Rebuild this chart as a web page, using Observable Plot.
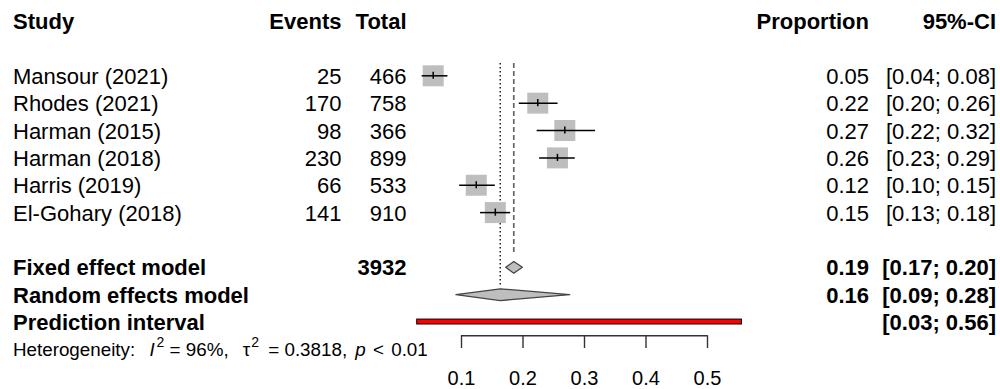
<!DOCTYPE html>
<html><head><meta charset="utf-8">
<script src="https://cdn.jsdelivr.net/npm/d3@7"></script>
<script src="https://cdn.jsdelivr.net/npm/@observablehq/plot@0.6"></script>
<style>
html,body{margin:0;padding:0;background:#fff;}
#chart svg{display:block;}
</style></head><body><div id="chart"></div>
<script>
// ---- data ----
const studies = ["Mansour (2021)", "Rhodes (2021)", "Harman (2015)", "Harman (2018)", "Harris (2019)", "El-Gohary (2018)"];
const events = [25, 170, 98, 230, 66, 141];
const totals = [466, 758, 366, 899, 533, 910];
const props = [0.054, 0.224, 0.268, 0.256, 0.124, 0.155];
const lower = [0.036, 0.194, 0.223, 0.227, 0.097, 0.131];
const upper = [0.078, 0.257, 0.318, 0.285, 0.155, 0.180];
const propLabels = ["0.05", "0.22", "0.27", "0.26", "0.12", "0.15"];
const ciLabels = ["[0.04; 0.08]", "[0.20; 0.26]", "[0.22; 0.32]", "[0.23; 0.29]", "[0.10; 0.15]", "[0.13; 0.18]"];

const summaryNames = ["Fixed effect model", "Random effects model", "Prediction interval"];
const summaryTotals = ["3932", "", ""];
const summaryEst = [0.185, 0.163, null];
const summaryLower = [0.172, 0.091, 0.028];
const summaryUpper = [0.199, 0.276, 0.556];
const summaryPropLabels = ["0.19", "0.16", ""];
const summaryCiLabels = ["[0.17; 0.20]", "[0.09; 0.28]", "[0.03; 0.56]"];

const headers = ["Study", "Events", "Total", "Proportion", "95%-CI"];
const hetLabel = "Heterogeneity: I2 = 96%, τ2 = 0.3818, p < 0.01";
const xTicks = [0.1, 0.2, 0.3, 0.4, 0.5];

// ---- layout ----
const W = 1000, H = 389;
const FONT = "'Liberation Sans', Arial, Helvetica, sans-serif";
const FS = 22, FS_HET = 18.8, FS_TICK = 20;
const rowTop = 75.3, rowStep = 27.36;
const headerRow = -2, fixedRow = 7, randomRow = 8, piRow = 9, hetRow = 10, axisRow = 9.5;
const yOf = r => rowTop + r * rowStep;
const colStudy = 12.5, colEvents = 341, colTotal = 406, colProp = 868.5, colCI = 995.5;

const studyRows = studies.map((s, i) => ({
  row: i, name: s, events: String(events[i]), total: String(totals[i]),
  est: props[i], lo: lower[i], hi: upper[i], prop: propLabels[i], ci: ciLabels[i]
}));
const sumRows = summaryNames.map((s, i) => ({
  row: [fixedRow, randomRow, piRow][i], name: s, total: summaryTotals[i],
  est: summaryEst[i], lo: summaryLower[i], hi: summaryUpper[i],
  prop: summaryPropLabels[i], ci: summaryCiLabels[i]
}));
const headerRowData = [{row: headerRow, name: headers[0], events: headers[1], total: headers[2], prop: headers[3], ci: headers[4]}];

const diamonds = [sumRows[0], sumRows[1]].flatMap((d, k) => {
  const h = 0.215;
  return [
    {id: k, x: d.lo, y: d.row},
    {id: k, x: d.est, y: d.row - h},
    {id: k, x: d.hi, y: d.row},
    {id: k, x: d.est, y: d.row + h}
  ];
});

function textCol(data, field, anchor, dxv, bold) {
  return Plot.text(data, {
    text: field, y: "row", frameAnchor: "left", dx: dxv, dy: 1,
    textAnchor: anchor, fontSize: FS, fontWeight: bold ? "bold" : "normal",
    fill: "#000", lineAnchor: "middle"
  });
}

const plot = Plot.plot({
  width: W, height: H,
  marginLeft: 0, marginRight: 0, marginTop: 0, marginBottom: H - yOf(axisRow),
  style: {fontFamily: FONT, background: "#fff", color: "#000"},
  x: {domain: [0.1, 0.5], range: [461, 707]},
  y: {domain: [0, 9], range: [yOf(0), yOf(9)], axis: null},
  marks: [
    // reference lines
    Plot.ruleX([sumRows[1]], {x: "est", y1: -0.45, y2: randomRow - 0.27, stroke: "#222", strokeWidth: 1.5, strokeDasharray: "1.5,2.5"}),
    Plot.ruleX([sumRows[0]], {x: "est", y1: -0.45, y2: fixedRow - 0.45, stroke: "#666", strokeWidth: 1.7, strokeDasharray: "5,3"}),
    // study squares and CIs
    Plot.dot(studyRows, {x: "est", y: "row", symbol: "square", r: 11.85, fill: "#bebebe", stroke: "none"}),
    Plot.ruleY(studyRows, {y: "row", x1: "lo", x2: "hi", stroke: "#000", strokeWidth: 1.5}),
    Plot.ruleX(studyRows, {x: "est", y1: d => d.row - 0.13, y2: d => d.row + 0.13, stroke: "#000", strokeWidth: 1.5}),
    // summary diamonds
    Plot.line(diamonds, {x: "x", y: "y", z: "id", curve: "linear-closed", fill: "#bebebe", stroke: "#444", strokeWidth: 1.3}),
    // prediction interval
    Plot.rect([sumRows[2]], {x1: "lo", x2: "hi", y1: d => d.row - 0.09, y2: d => d.row + 0.09, fill: "#ff0000", stroke: "#000", strokeWidth: 1}),
    // axis
    Plot.ruleY([axisRow], {x1: xTicks[0], x2: xTicks[xTicks.length - 1], stroke: "#333", strokeWidth: 1.4}),
    Plot.axisX(xTicks, {anchor: "bottom", tickSize: 12.8, tickPadding: 22, fontSize: FS_TICK, stroke: "#333", strokeWidth: 1.4, tickFormat: d => String(d), label: null}),
    // header
    textCol(headerRowData, "name", "start", colStudy, true),
    textCol(headerRowData, "events", "end", colEvents, true),
    textCol(headerRowData, "total", "end", colTotal, true),
    textCol(headerRowData, "prop", "end", colProp, true),
    textCol(headerRowData, "ci", "end", colCI, true),
    // study rows
    textCol(studyRows, "name", "start", colStudy, false),
    textCol(studyRows, "events", "end", colEvents, false),
    textCol(studyRows, "total", "end", colTotal, false),
    textCol(studyRows, "prop", "end", colProp, false),
    textCol(studyRows, "ci", "end", colCI, false),
    // summary rows
    textCol(sumRows, "name", "start", colStudy, true),
    textCol(sumRows, "total", "end", colTotal, true),
    textCol(sumRows, "prop", "end", colProp, true),
    textCol(sumRows, "ci", "end", colCI, true),
    // heterogeneity
    Plot.text([hetLabel], {text: d => d, y: () => hetRow, frameAnchor: "left", dx: colStudy, dy: 1, textAnchor: "start", fontSize: FS_HET, fill: "#000"})
  ]
});

// rich formatting for the heterogeneity line (italics, superscripts, plotmath-like spacing)
d3.select(plot).selectAll("text").filter(function () { return this.textContent.startsWith("Heterogeneity"); })
  .html('Heterogeneity: <tspan dx="9" font-style="italic">I</tspan><tspan dx="2" font-size="14" dy="-9">2</tspan><tspan dy="9"> = 96%, </tspan><tspan dx="9">τ</tspan><tspan dx="1" font-size="14" dy="-9">2</tspan><tspan dy="9" dx="4"> = 0.3818, </tspan><tspan dx="3" font-style="italic">p</tspan><tspan dx="2"> &lt; </tspan><tspan dx="2">0.01</tspan>');

document.getElementById("chart").appendChild(plot);
</script></body></html>
